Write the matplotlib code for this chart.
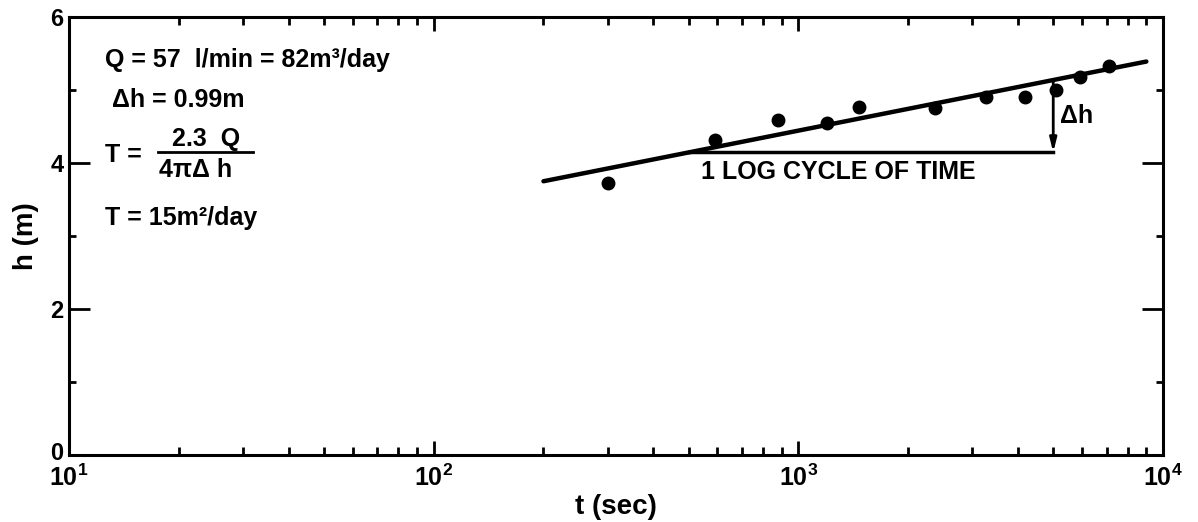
import numpy as np
import matplotlib
matplotlib.use("Agg")
import matplotlib.pyplot as plt
from matplotlib.ticker import FixedLocator, NullFormatter
from matplotlib.transforms import offset_copy

plt.rcParams['font.family'] = ['Liberation Sans', 'DejaVu Sans']
plt.rcParams['font.weight'] = 'bold'
plt.rcParams['mathtext.fontset'] = 'custom'
plt.rcParams['mathtext.rm'] = 'Liberation Sans:bold'
plt.rcParams['mathtext.it'] = 'Liberation Sans:bold'
plt.rcParams['mathtext.bf'] = 'Liberation Sans:bold'

# measured drawdown data
t_sec = [300, 590, 880, 1200, 1470, 2370, 3280, 4180, 5100, 5920, 7100]
h_m = [3.72, 4.32, 4.59, 4.55, 4.77, 4.75, 4.91, 4.91, 5.00, 5.18, 5.33]

# straight line fit
line_t = [200, 9000]
line_h = [3.75, 5.39]

# one log cycle used for delta h
cycle_t = [500, 5000]

x_ticks = [10, 100, 1000, 10000]
x_labels = [r'$\mathbf{10^{1}}$', r'$\mathbf{10^{2}}$', r'$\mathbf{10^{3}}$', r'$\mathbf{10^{4}}$']
y_ticks = [0, 2, 4, 6]
y_labels = ['0', '2', '4', '6']

fig = plt.figure(figsize=(11.98, 5.22), dpi=100)
ax = fig.add_axes([0.0576, 0.1284, 0.9132, 0.839])

ax.plot(t_sec, h_m, 'o', color='black', markersize=9)
ax.plot(line_t, line_h, '-', color='black', lw=3.2, solid_capstyle='round')

slope = (line_h[1] - line_h[0]) / (np.log10(line_t[1]) - np.log10(line_t[0]))
h_lo = line_h[0] + slope * (np.log10(cycle_t[0]) - np.log10(line_t[0]))
h_hi = line_h[0] + slope * (np.log10(cycle_t[1]) - np.log10(line_t[0]))
ax.plot(cycle_t, [h_lo, h_lo], '-', color='black', lw=2.5)
ax.annotate('', xy=(cycle_t[1], h_lo), xytext=(cycle_t[1], h_hi),
            arrowprops=dict(arrowstyle='-|>,head_length=0.8,head_width=0.2',
                            color='black', lw=2, shrinkA=0, shrinkB=0))
ax.text(cycle_t[1] * 1.045, (h_lo + h_hi) / 2, 'Δh', fontsize=18,
        fontweight='bold', va='center', ha='left')
ax.text(cycle_t[0] * 1.08, h_lo - 0.1, '1 LOG CYCLE OF TIME', fontsize=18,
        fontweight='bold', va='top', ha='left')

# formula block in the upper left
fs = 18
ax.text(0.033, 0.902, 'Q = 57  l/min = 82m³/day', transform=ax.transAxes,
        fontsize=fs, fontweight='bold', va='center')
ax.text(0.039, 0.81, 'Δh = 0.99m', transform=ax.transAxes,
        fontsize=fs, fontweight='bold', va='center')
ax.text(0.033, 0.685, 'T =', transform=ax.transAxes,
        fontsize=fs, fontweight='bold', va='center')
ax.text(0.125, 0.722, '2.3  Q', transform=ax.transAxes,
        fontsize=fs, fontweight='bold', va='center', ha='center')
ax.plot([0.081, 0.168], [0.692, 0.692], color='black', lw=2,
        transform=ax.transAxes)
ax.text(0.116, 0.65, '4πΔ h', transform=ax.transAxes,
        fontsize=fs, fontweight='bold', va='center', ha='center')
ax.text(0.033, 0.541, 'T = 15m²/day', transform=ax.transAxes,
        fontsize=fs, fontweight='bold', va='center')

ax.set_xscale('log')
ax.set_xlim(10, 10000)
ax.set_ylim(0, 6)
ax.set_xticks(x_ticks)
ax.set_xticklabels(x_labels, fontsize=18)
ax.xaxis.set_minor_locator(FixedLocator(
    [m * 10 ** e for e in range(1, 4) for m in range(2, 10)]))
ax.xaxis.set_minor_formatter(NullFormatter())
ax.set_yticks(y_ticks)
ax.set_yticklabels(y_labels, fontsize=17, fontweight='bold')
ax.yaxis.set_minor_locator(FixedLocator([1, 3, 5]))

ax.tick_params(which='both', direction='in', top=True, right=True, width=2)
ax.tick_params(axis='x', which='major', length=10, pad=7)
ax.tick_params(axis='x', which='minor', length=6)
ax.tick_params(axis='y', which='major', length=15, pad=4)
ax.tick_params(axis='y', which='minor', length=5)
for sp in ax.spines.values():
    sp.set_linewidth(2.2)

# nudge the "0" label up so it clears the 10^1 label
zero_lbl = ax.get_yticklabels()[0]
zero_lbl.set_transform(offset_copy(zero_lbl.get_transform(), fig=fig, x=0, y=4, units='dots'))

ax.set_xlabel('t (sec)', fontsize=20, fontweight='bold', labelpad=2)
ax.set_ylabel('h (m)', fontsize=20, fontweight='bold', labelpad=8)

fig.savefig('out.png', dpi=100)
